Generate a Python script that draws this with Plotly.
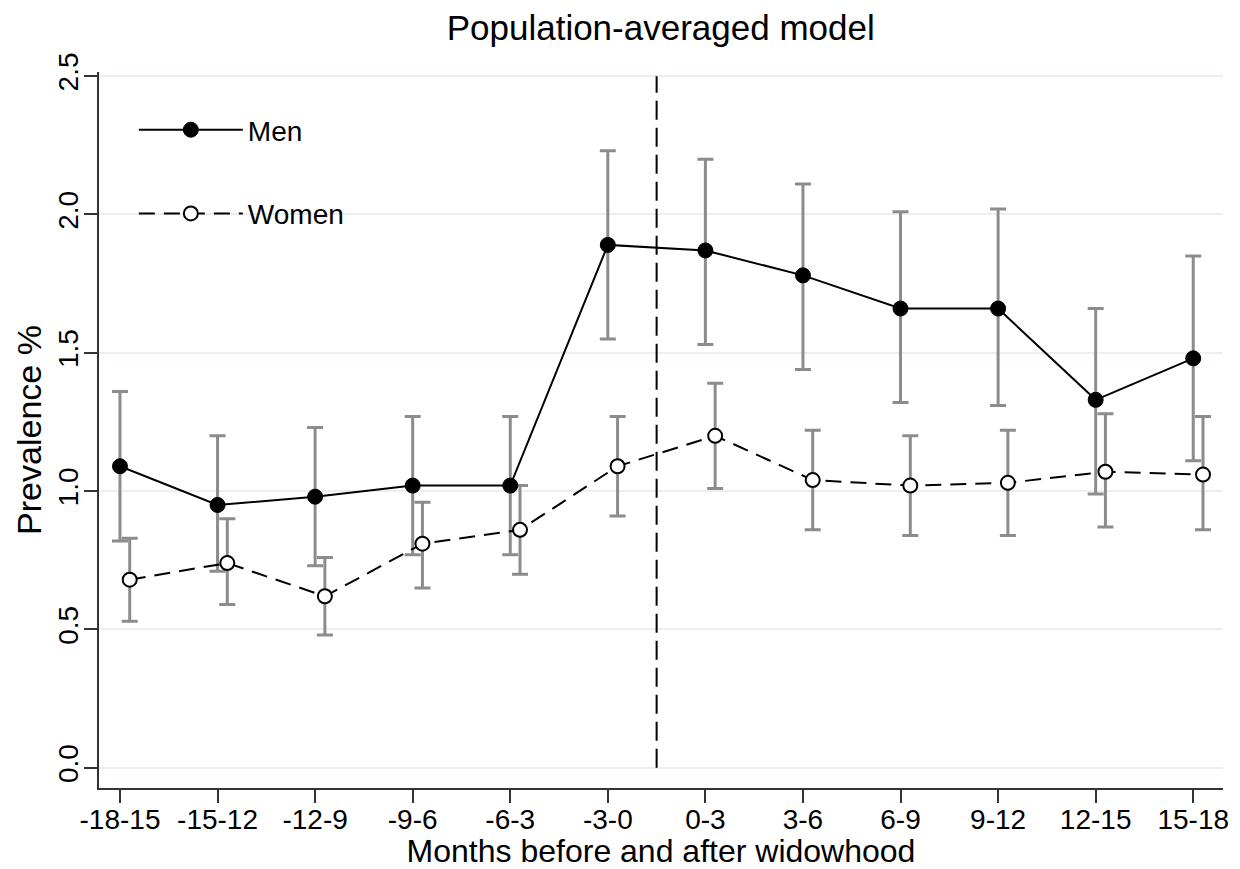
import plotly.graph_objects as go

categories = ["-18-15", "-15-12", "-12-9", "-9-6", "-6-3", "-3-0",
              "0-3", "3-6", "6-9", "9-12", "12-15", "15-18"]
men = [1.09, 0.95, 0.98, 1.02, 1.02, 1.89, 1.87, 1.78, 1.66, 1.66, 1.33, 1.48]
men_lo = [0.82, 0.71, 0.73, 0.77, 0.77, 1.55, 1.53, 1.44, 1.32, 1.31, 0.99, 1.11]
men_hi = [1.36, 1.20, 1.23, 1.27, 1.27, 2.23, 2.20, 2.11, 2.01, 2.02, 1.66, 1.85]
women = [0.68, 0.74, 0.62, 0.81, 0.86, 1.09, 1.20, 1.04, 1.02, 1.03, 1.07, 1.06]
women_lo = [0.53, 0.59, 0.48, 0.65, 0.70, 0.91, 1.01, 0.86, 0.84, 0.84, 0.87, 0.86]
women_hi = [0.83, 0.90, 0.76, 0.96, 1.02, 1.27, 1.39, 1.22, 1.20, 1.22, 1.28, 1.27]
y_ticks = [0.0, 0.5, 1.0, 1.5, 2.0, 2.5]
widowhood_x = 6.5
women_offset = 0.1

x_men = [i + 1 for i in range(len(categories))]
x_women = [x + women_offset for x in x_men]

FONT = "Liberation Sans, Arial, sans-serif"
ERR = "#8c8c8c"

fig = go.Figure()

# error bars (behind)
fig.add_trace(go.Scatter(
    x=x_men, y=men, mode="markers", marker=dict(size=1, opacity=0),
    showlegend=False, hoverinfo="skip",
    error_y=dict(type="data", symmetric=False,
                 array=[h - m for h, m in zip(men_hi, men)],
                 arrayminus=[m - l for m, l in zip(men, men_lo)],
                 color=ERR, thickness=3, width=8)))
fig.add_trace(go.Scatter(
    x=x_women, y=women, mode="markers", marker=dict(size=1, opacity=0),
    showlegend=False, hoverinfo="skip",
    error_y=dict(type="data", symmetric=False,
                 array=[h - m for h, m in zip(women_hi, women)],
                 arrayminus=[m - l for m, l in zip(women, women_lo)],
                 color=ERR, thickness=3, width=8)))

fig.add_trace(go.Scatter(
    x=x_men, y=men, mode="lines+markers", name="Men",
    line=dict(color="black", width=2),
    marker=dict(symbol="circle", size=15, color="black",
                line=dict(color="black", width=1)),
    legend="legend"))
fig.add_trace(go.Scatter(
    x=x_women, y=women, mode="lines+markers", name="Women",
    line=dict(color="black", width=2, dash="16px,9px"),
    marker=dict(symbol="circle", size=14, color="white",
                line=dict(color="black", width=2)),
    legend="legend2"))

fig.add_shape(type="line", xref="x", yref="y",
              x0=widowhood_x, x1=widowhood_x, y0=0, y1=2.5,
              line=dict(color="black", width=2, dash="19px,8px"))

fig.update_layout(
    width=1232, height=861,
    margin=dict(l=91, r=17, t=64, b=81),
    paper_bgcolor="white", plot_bgcolor="white",
    font=dict(family=FONT, size=28, color="black"),
    title=dict(text="Population-averaged model", x=0.5298, xanchor="center",
               y=0.9768, yanchor="middle",
               font=dict(family=FONT, size=35, color="black")),
    xaxis=dict(
        range=[0.785, 12.305], tickmode="array", tickvals=x_men,
        ticktext=categories, showgrid=False, zeroline=False,
        showline=True, linecolor="#333333", linewidth=2,
        ticks="outside", ticklen=13, tickwidth=2, tickcolor="#333333",
        tickfont=dict(family=FONT, size=28, color="black"),
        ticklabelstandoff=-8, automargin=False,
        title=dict(text="Months before and after widowhood", standoff=0,
                   font=dict(family=FONT, size=32, color="black"))),
    yaxis=dict(
        range=[-0.073, 2.515], tickmode="array", tickvals=y_ticks,
        ticktext=[f"{v:.1f}" for v in y_ticks], tickangle=-90,
        showgrid=True, gridcolor="#e8f0f2", gridwidth=2, zeroline=False,
        showline=True, linecolor="#333333", linewidth=2,
        ticks="outside", ticklen=13, tickwidth=2, tickcolor="#333333",
        tickfont=dict(family=FONT, size=28, color="black"),
        ticklabelstandoff=-5, automargin=False,
        title=dict(text="Prevalence %", standoff=1,
                   font=dict(family=FONT, size=34, color="black"))),
    legend=dict(x=0.031, y=0.919, xanchor="left", yanchor="middle",
                bgcolor="rgba(0,0,0,0)", itemwidth=104,
                font=dict(family=FONT, size=28, color="black")),
    legend2=dict(x=0.031, y=0.802, xanchor="left", yanchor="middle",
                 bgcolor="rgba(0,0,0,0)", itemwidth=104,
                 font=dict(family=FONT, size=28, color="black")),
)

fig.write_html("out.html")
